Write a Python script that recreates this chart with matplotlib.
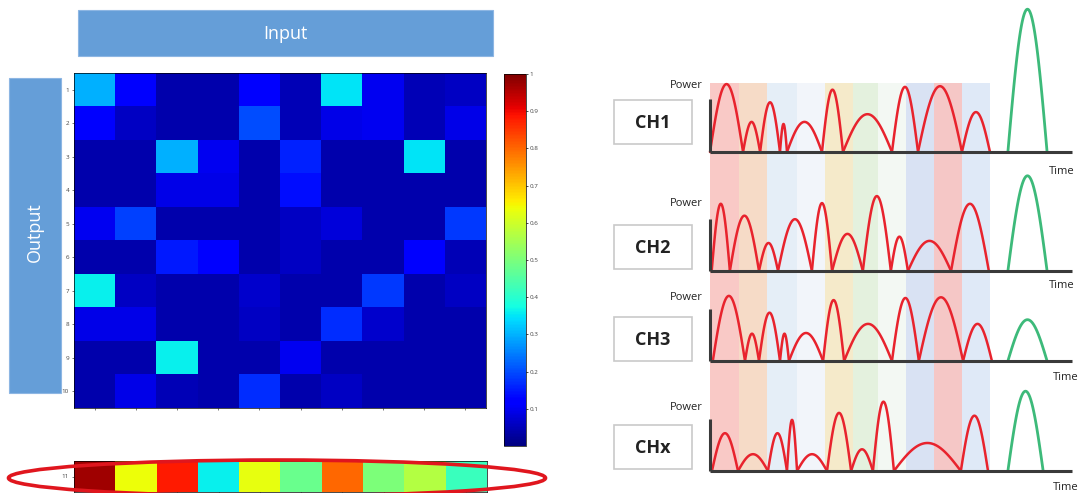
import numpy as np
import matplotlib
matplotlib.use("Agg")
import matplotlib.pyplot as plt
from matplotlib.patches import Rectangle, Ellipse

plt.rcParams['font.family'] = ['Open Sans', 'DejaVu Sans']

# ---------------- data ----------------
row_labels = ["1", "2", "3", "4", "5", "6", "7", "8", "9", "10"]
matrix = np.array([
    [0.30, 0.12, 0.04, 0.04, 0.12, 0.05, 0.35, 0.10, 0.05, 0.06],
    [0.12, 0.06, 0.04, 0.04, 0.20, 0.05, 0.09, 0.10, 0.05, 0.09],
    [0.04, 0.04, 0.30, 0.10, 0.04, 0.16, 0.04, 0.04, 0.35, 0.04],
    [0.04, 0.04, 0.09, 0.09, 0.04, 0.14, 0.04, 0.04, 0.04, 0.04],
    [0.10, 0.19, 0.04, 0.04, 0.04, 0.06, 0.08, 0.04, 0.04, 0.18],
    [0.04, 0.04, 0.15, 0.12, 0.04, 0.06, 0.04, 0.04, 0.12, 0.05],
    [0.36, 0.06, 0.04, 0.04, 0.07, 0.04, 0.04, 0.18, 0.04, 0.06],
    [0.09, 0.09, 0.04, 0.04, 0.06, 0.04, 0.17, 0.07, 0.04, 0.04],
    [0.04, 0.04, 0.36, 0.04, 0.04, 0.10, 0.04, 0.04, 0.04, 0.04],
    [0.04, 0.09, 0.05, 0.04, 0.17, 0.04, 0.06, 0.04, 0.04, 0.04],
])
sum_row_label = ["11"]
sum_row = np.array([[0.97, 0.64, 0.88, 0.36, 0.63, 0.48, 0.80, 0.50, 0.57, 0.42]])
cbar_ticks = [0.1, 0.2, 0.3, 0.4, 0.5, 0.6, 0.7, 0.8, 0.9, 1.0]
cbar_labels = ["0.1", "0.2", "0.3", "0.4", "0.5", "0.6", "0.7", "0.8", "0.9", "1"]

channels = ["CH1", "CH2", "CH3", "CHx"]
# red pulses per channel: start time, end time, peak power
ch_start = [
    [0.00, 1.18, 1.79, 2.50, 2.75, 4.00, 4.75, 6.50, 7.43, 9.00],
    [0.06, 0.71, 1.75, 2.43, 3.64, 4.36, 5.46, 6.46, 7.07, 8.61],
    [0.10, 1.25, 1.75, 2.50, 2.82, 4.04, 4.79, 6.50, 7.46, 9.04],
    [0.07, 1.00, 2.07, 2.75, 3.11, 4.18, 5.04, 5.82, 6.57, 8.96],
]
ch_end = [
    [1.18, 1.79, 2.50, 2.75, 4.00, 4.75, 6.50, 7.43, 9.00, 10.00],
    [0.71, 1.75, 2.43, 3.64, 4.36, 5.46, 6.46, 7.07, 8.61, 9.96],
    [1.25, 1.75, 2.50, 2.82, 4.04, 4.79, 6.50, 7.46, 9.04, 10.07],
    [1.00, 2.07, 2.75, 3.11, 4.18, 5.04, 5.82, 6.57, 8.96, 9.93],
]
ch_peak = [
    [0.97, 0.43, 0.71, 0.40, 0.43, 0.89, 0.54, 0.93, 0.94, 0.57],
    [0.96, 0.79, 0.40, 0.74, 0.97, 0.53, 1.07, 0.49, 0.43, 0.96],
    [0.93, 0.39, 0.69, 0.39, 0.40, 0.87, 0.53, 0.90, 0.91, 0.53],
    [0.54, 0.24, 0.54, 0.73, 0.24, 0.83, 0.31, 0.99, 0.40, 0.79],
]
# green (summed) pulse per channel
green_start = [10.64, 10.64, 10.64, 10.64]
green_end = [12.04, 12.04, 12.04, 11.90]
green_peak = [2.04, 1.36, 0.59, 1.14]

# time-slot bands
band_edges = [0.0, 1.05, 2.05, 3.1, 4.1, 5.1, 6.0, 7.0, 8.0, 9.0, 10.0]
band_colors = ["#f7b2ae", "#f3cdb0", "#dbe8f5", "#edf2f8", "#f2e2b4",
               "#d9ecd1", "#eef6ee", "#c9d6ef", "#f2b0ae", "#d2e1f4"]

# ---------------- layout helpers ----------------
W, H = 1091, 493
fig = plt.figure(figsize=(W / 100, H / 100), dpi=100)
fig.patch.set_facecolor("white")


def rect(x0, y0, x1, y1):
    return [x0 / W, 1 - y1 / H, (x1 - x0) / W, (y1 - y0) / H]


# ---------------- heatmap ----------------
ax_hm = fig.add_axes(rect(74, 73, 486, 408))
im = ax_hm.imshow(matrix, cmap="jet", vmin=0, vmax=1, aspect="auto",
                  interpolation="nearest")
ax_hm.set_yticks(range(len(row_labels)))
ax_hm.set_yticklabels(row_labels, fontsize=4.5, color="#444444")
ax_hm.set_xticks(range(matrix.shape[1]))
ax_hm.set_xticklabels([])
ax_hm.tick_params(length=1.5, width=0.5, pad=2, colors="#444444")
for s in ax_hm.spines.values():
    s.set_linewidth(0.5)

# colorbar
ax_cb = fig.add_axes(rect(504, 74, 526, 446))
cb = fig.colorbar(im, cax=ax_cb, ticks=cbar_ticks)
cb.ax.set_yticklabels(cbar_labels, fontsize=4.5, color="#444444")
cb.ax.tick_params(length=1.5, width=0.5, pad=1)
cb.outline.set_linewidth(0.5)

# bottom summed row
ax_sum = fig.add_axes(rect(74, 461, 487, 492))
ax_sum.imshow(sum_row, cmap="jet", vmin=0, vmax=1, aspect="auto",
              interpolation="nearest")
ax_sum.set_yticks([0])
ax_sum.set_yticklabels(sum_row_label, fontsize=4.5, color="#444444")
ax_sum.set_xticks(range(sum_row.shape[1]))
ax_sum.set_xticklabels([])
ax_sum.tick_params(length=1.5, width=0.5, pad=2, colors="#444444")
for s in ax_sum.spines.values():
    s.set_linewidth(0.5)

# ---------------- right: channel traces ----------------
T0, T1 = 0.0, 12.93
PX_PER_P = 70.0
ax_bands = fig.add_axes(rect(710, 83, 1072, 471))
ax_bands.set_xlim(T0, T1)
ax_bands.set_ylim(0, 1)
for i, c in enumerate(band_colors):
    ax_bands.axvspan(band_edges[i], band_edges[i + 1], color=c, alpha=0.7, lw=0)
ax_bands.axis("off")

baselines = [152, 271, 361, 471]
axis_height = 0.75
for k, name in enumerate(channels):
    b = baselines[k]
    ax = fig.add_axes(rect(710, b - 150, 1072, b))
    ax.patch.set_alpha(0)
    ax.set_xlim(T0, T1)
    ax.set_ylim(0, 150 / PX_PER_P)
    for s, e, p in zip(ch_start[k], ch_end[k], ch_peak[k]):
        t = np.linspace(s, e, 80)
        ax.plot(t, p * np.sin(np.pi * (t - s) / (e - s)), color="#e8232d",
                lw=1.8, solid_capstyle="round", clip_on=False)
    t = np.linspace(green_start[k], green_end[k], 80)
    ax.plot(t, green_peak[k] * np.sin(np.pi * (t - green_start[k]) /
                                      (green_end[k] - green_start[k])),
            color="#3dba7a", lw=2.0, clip_on=False)
    ax.plot([T0, T1], [0, 0], color="#3a3a3a", lw=2.2, clip_on=False,
            solid_capstyle="butt")
    ax.plot([T0, T0], [0, axis_height], color="#3a3a3a", lw=2.2,
            clip_on=False, solid_capstyle="butt")
    ax.axis("off")

# ---------------- overlay: boxes, labels ----------------
ov = fig.add_axes([0, 0, 1, 1])
ov.set_xlim(0, W)
ov.set_ylim(H, 0)
ov.axis("off")
ov.patch.set_alpha(0)

box_blue = "#659ed8"
ov.add_patch(Rectangle((78, 10), 415, 46, facecolor=box_blue,
                       edgecolor="#8db6e3", lw=0.8))
ov.text(285, 34, "Input", color="white", fontsize=13, ha="center",
        va="center")
ov.add_patch(Rectangle((9, 78), 52, 315, facecolor=box_blue,
                       edgecolor="#8db6e3", lw=0.8))
ov.text(35, 232, "Output", color="white", fontsize=13, ha="center",
        va="center", rotation=90)

ov.add_patch(Ellipse((277, 478), 537, 36, facecolor="none",
                     edgecolor="#e0161e", lw=2.6))

box_centers = [122, 247, 339, 447]
power_y = [86, 204, 298, 407]
time_pos = [(1062, 171), (1062, 285), (1066, 377), (1066, 488)]
for k, name in enumerate(channels):
    cy = box_centers[k]
    ov.add_patch(Rectangle((614, cy - 22), 78, 44, facecolor="white",
                           edgecolor="#c9c9c9", lw=1.2))
    ov.text(653, cy + 1, name, fontsize=13, fontweight="bold",
            color="#222222", ha="center", va="center")
    ov.text(703, power_y[k], "Power", fontsize=8, color="#222222",
            ha="right", va="center")
    ov.text(time_pos[k][0], time_pos[k][1], "Time", fontsize=8,
            color="#222222", ha="center", va="center")

fig.savefig("out.png", dpi=100)
